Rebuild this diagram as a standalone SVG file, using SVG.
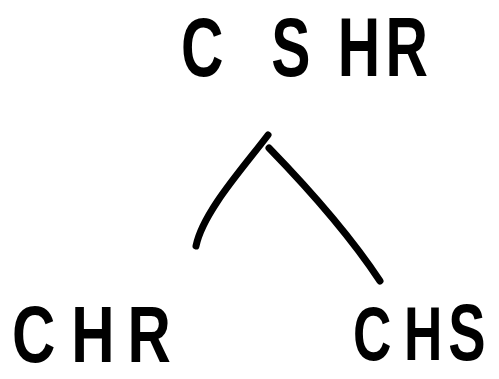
<svg xmlns="http://www.w3.org/2000/svg" width="499" height="379" viewBox="0 0 499 379">
  <style>
    .lbl { font-family: "Liberation Sans", Arial, sans-serif; font-weight: bold; fill: #000; }
    .edge { fill: none; stroke: #000; stroke-width: 7; stroke-linecap: round; stroke-linejoin: round; }
  </style>
  <rect width="499" height="379" fill="#fff"/>
  <g id="edges">
    <path class="edge" d="M268,135 C243,168 203,212 196,246"/>
    <path class="edge" d="M269,148 C302,182 345,228 380,281"/>
  </g>
  <g id="node-cshr">
    <text class="lbl" font-size="84" transform="translate(181,76) scale(0.7,1)" x="0 129 224 292">CSHR</text>
  </g>
  <g id="node-chr">
    <text class="lbl" font-size="79" transform="translate(12,362) scale(0.76,1)" x="0 78 152">CHR</text>
  </g>
  <g id="node-chs">
    <text class="lbl" font-size="76" transform="translate(353,360) scale(0.7,1)" x="0 73 136">CH<tspan font-size="80">S</tspan></text>
  </g>
</svg>
